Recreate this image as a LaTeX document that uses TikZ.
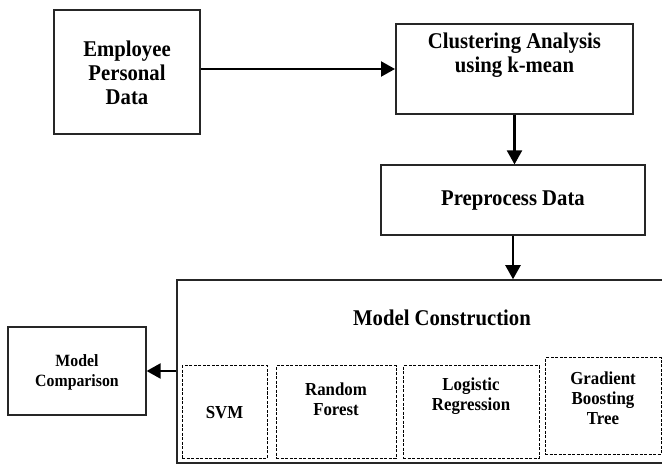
\documentclass[tikz,border=0pt]{standalone}
\usepackage{fontspec}
\setmainfont[FakeStretch=0.92]{Liberation Serif}
\usetikzlibrary{arrows.meta}
\begin{document}
\begin{tikzpicture}[x=1pt,y=-1pt,
  box/.style={draw=black!85, line width=1.2pt, inner sep=0pt},
  dbox/.style={draw=black, line width=1pt, dash pattern=on 3pt off 1.5pt, inner sep=0pt},
  txt/.style={font=\fontsize{22.5}{24}\selectfont\bfseries, align=center, inner sep=0pt},
  stxt/.style={font=\fontsize{18.3}{20}\selectfont\bfseries, align=center, inner sep=0pt},
  mtxt/.style={font=\fontsize{17.2}{20}\selectfont\bfseries, align=center, inner sep=0pt},
  arr/.style={line width=2.2pt, -{Triangle[length=14pt,width=15pt]}}]
\clip (0,0) rectangle (662,465);
\fill[white] (0,0) rectangle (662,465);
% boxes
\node[box, minimum width=146pt, minimum height=124pt] (emp) at (127,72) {};
\node[txt] at (127,73) {Employee\\Personal\\Data};
\node[box, line width=2pt, minimum width=237pt, minimum height=90pt] (clu) at (514.5,69) {};
\node[txt] at (514.5,55) {Clustering Analysis\\using k-mean};
\node[box, minimum width=264pt, minimum height=70pt] (pre) at (513,200) {};
\node[txt] at (513,201) {Preprocess Data};
\node[box, line width=1.5pt, minimum width=530pt, minimum height=183pt] (mc) at (442,371.5) {};
\node[txt] at (442,318) {Model Construction};
\node[box, minimum width=138pt, minimum height=88pt] (cmp) at (77,371) {};
\node[mtxt] at (77,372) {Model\\Comparison};
% inner dashed boxes
\node[dbox, minimum width=85pt, minimum height=92pt] (svm) at (224.5,412) {};
\node[stxt] at (224.5,413) {SVM};
\node[dbox, minimum width=120pt, minimum height=92pt] (rf) at (336,412) {};
\node[stxt] at (336,399) {Random\\Forest};
\node[dbox, minimum width=136pt, minimum height=92pt] (lr) at (471,412) {};
\node[stxt] at (471,396) {Logistic\\Regression};
\node[dbox, minimum width=116pt, minimum height=96pt] (gbt) at (603,406) {};
\node[stxt] at (603,398) {Gradient\\Boosting\\Tree};
% connectors
\draw[arr] (emp.east |- clu.west) -- (clu.west);
\draw[arr] (clu.south) -- (clu.south |- pre.north);
\draw[arr] (pre.south) -- (pre.south |- mc.north);
\draw[arr] (mc.west |- cmp.east) -- (cmp.east);
\end{tikzpicture}
\end{document}
